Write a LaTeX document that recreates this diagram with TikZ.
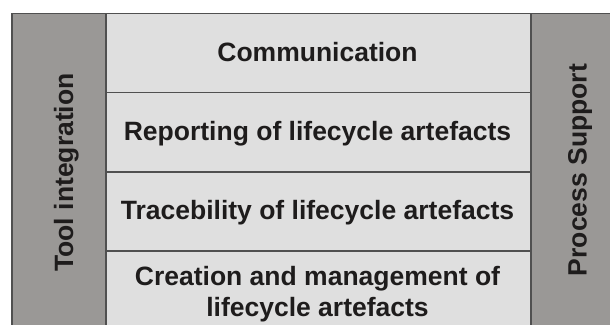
\documentclass[tikz,border=0pt]{standalone}
\usepackage{fontspec}
\setmainfont{Liberation Sans}
\definecolor{sidegray}{HTML}{9A9896}
\definecolor{midgray}{HTML}{DFDFDF}
\definecolor{edgegray}{HTML}{505050}
\definecolor{inkcol}{HTML}{1E1C1C}
\tikzset{
  sidebox/.style={draw=edgegray, fill=sidegray, line width=1.6pt, rectangle, inner sep=0pt},
  rowbox/.style={draw=edgegray, fill=midgray, line width=1.6pt, rectangle, inner sep=0pt,
                 minimum width=425pt, minimum height=79pt},
  lab/.style={font=\fontsize{26.5}{31}\selectfont\bfseries, text=inkcol, inner sep=0pt, align=center},
  sidelab/.style={lab, rotate=90, anchor=base}
}
\begin{document}
\begin{tikzpicture}[x=1pt,y=-1pt]
\useasboundingbox (0,0) rectangle (610,324);
\clip (0,0) rectangle (610,324);
\fill[white] (0,0) rectangle (610,324);
% side columns
\node[sidebox, minimum width=94pt, minimum height=330pt, anchor=north west] (tool) at (11,12.7) {};
\node[sidebox, minimum width=90pt, minimum height=330pt, anchor=north west] (proc) at (530,12.7) {};
% middle rows
\node[rowbox, anchor=north west] (comm) at (105,12.7) {};
\node[rowbox, anchor=north west] (rep)  at (105,91.7) {};
\node[rowbox, anchor=north west] (trace) at (105,171) {};
\node[rowbox, anchor=north west, minimum height=90pt] (create) at (105,250.7) {};
% labels
\node[lab, anchor=base] (tcomm) at (317.5,61.5) {Communication};
\node[lab, anchor=base] (trep) at (317.5,140.5) {Reporting of lifecycle artefacts};
\node[lab, anchor=base] (ttrace) at (317.5,219.5) {Tracebility of lifecycle artefacts};
\node[lab, anchor=base] (tcreate) at (317.5,316) {Creation and management of\\lifecycle artefacts};
\node[sidelab] (ttool) at (73,172.5) {Tool integration};
\node[sidelab] (tproc) at (586.7,170) {Process Support};
\end{tikzpicture}
\end{document}
